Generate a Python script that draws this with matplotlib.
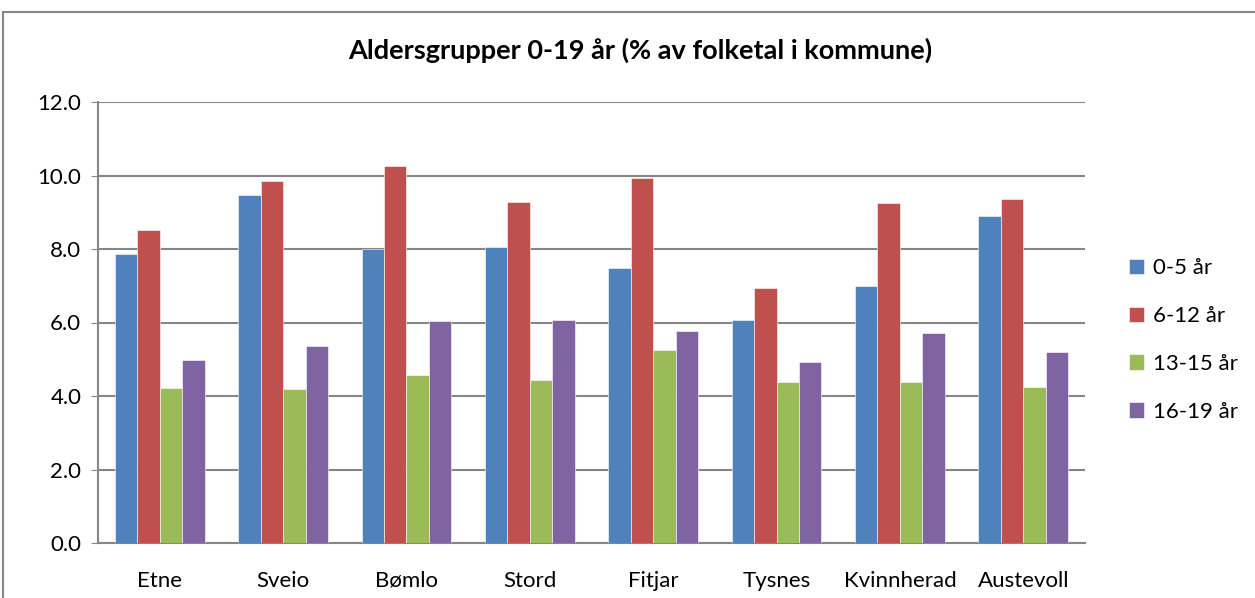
import numpy as np
import matplotlib.pyplot as plt
from matplotlib.patches import Rectangle

plt.rcParams['font.family'] = ['Lato', 'DejaVu Sans']

kommunar = ['Etne', 'Sveio', 'Bømlo', 'Stord', 'Fitjar', 'Tysnes', 'Kvinnherad', 'Austevoll']
grupper = ['0-5 år', '6-12 år', '13-15 år', '16-19 år']
v0_5 = [7.87, 9.46, 8.01, 8.05, 7.47, 6.07, 6.99, 8.89]
v6_12 = [8.53, 9.85, 10.27, 9.28, 9.92, 6.95, 9.24, 9.35]
v13_15 = [4.23, 4.20, 4.56, 4.43, 5.25, 4.37, 4.39, 4.25]
v16_19 = [4.98, 5.36, 6.04, 6.06, 5.77, 4.92, 5.71, 5.21]
farger = ['#4F81BD', '#C0504D', '#9BBB59', '#8064A2']

fig = plt.figure(figsize=(12.55, 5.98), dpi=100)
ax = fig.add_axes([98/1255, 1-543/598, (1085-98)/1255, (543-102)/598])

# outer chart border
fig.patches.append(Rectangle((3/1255, -0.05), 1.1, 1-12/598+0.05, transform=fig.transFigure,
                             fill=False, edgecolor='#868686', linewidth=1.5))

x = np.arange(len(kommunar))
w = 0.182
for i, (vals, c, lab) in enumerate(zip([v0_5, v6_12, v13_15, v16_19], farger, grupper)):
    ax.bar(x + (i - 1.5)*w, vals, w, color=c, label=lab, edgecolor='white', linewidth=0.4, zorder=3)

ax.set_xlim(-0.5, len(kommunar)-0.5)
ax.set_ylim(0, 12)
ax.set_yticks(np.arange(0, 12.1, 2))
ax.set_yticklabels(['%.1f' % v for v in np.arange(0, 12.1, 2)], fontsize=16)
ax.set_xticks(x)
ax.set_xticklabels(kommunar, fontsize=16)
ax.tick_params(axis='x', length=0, pad=20)
ax.tick_params(axis='y', length=5, color='#868686', pad=7)
ax.yaxis.grid(True, color='#868686', linewidth=1.5, zorder=0)
for s in ['top', 'right']:
    ax.spines[s].set_visible(False)
for s in ['left', 'bottom']:
    ax.spines[s].set_color('#868686')
    ax.spines[s].set_linewidth(1.5)

fig.text(640/1255, 1-50/598, 'Aldersgrupper 0-19 år (% av folketal i kommune)',
         ha='center', va='center', fontsize=19.5, fontweight='bold')

ax.legend(loc='center left', bbox_to_anchor=(1.024, 0.46), frameon=False, fontsize=16,
          handlelength=0.7, handleheight=0.7, handletextpad=0.4, labelspacing=1.25)

fig.savefig('out.png', dpi=100)
